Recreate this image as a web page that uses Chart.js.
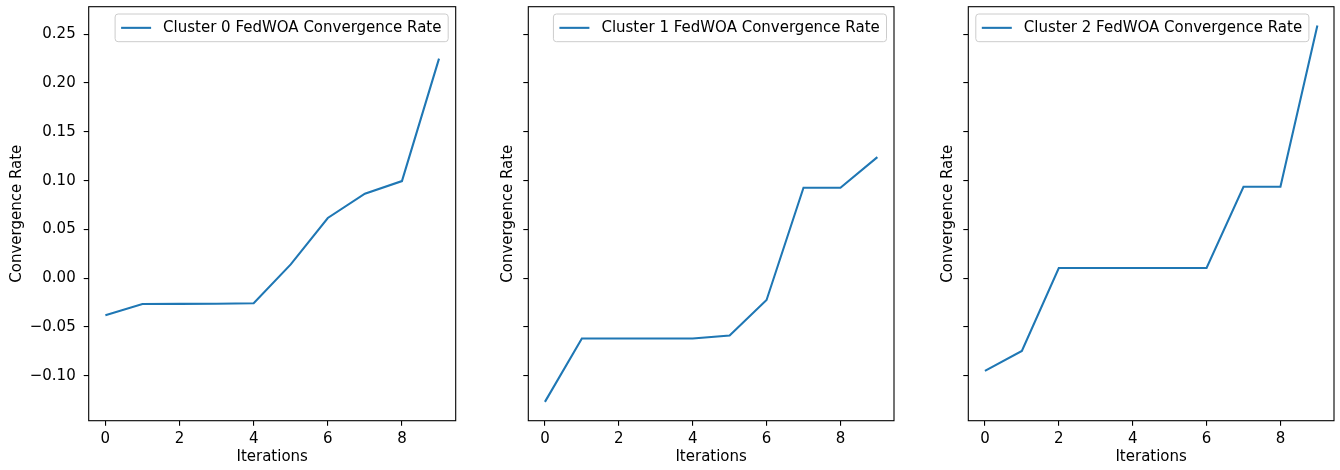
<!DOCTYPE html>
<html>
<head>
<meta charset="utf-8">
<script src="https://cdn.jsdelivr.net/npm/chart.js@4/dist/chart.umd.min.js"></script>
<style>
  html, body { margin: 0; padding: 0; background: #fff; }
  #wrap { position: relative; width: 1340px; height: 470px; }
  #wrap canvas { position: absolute; top: 0; }
</style>
</head>
<body>
<div id="wrap">
  <canvas id="c0" width="460" height="470" style="left:0px"></canvas>
  <canvas id="c1" width="440" height="470" style="left:460px"></canvas>
  <canvas id="c2" width="440" height="470" style="left:900px"></canvas>
</div>
<script>
// ===== DATA =====
const iterations = [0, 1, 2, 3, 4, 5, 6, 7, 8, 9];
const cluster0 = [-0.0380, -0.0264, -0.0263, -0.0261, -0.0257, 0.0142, 0.0617, 0.0866, 0.0995, 0.2250];
const cluster1 = [-0.1267, -0.0618, -0.0618, -0.0618, -0.0618, -0.0588, -0.0223, 0.0927, 0.0927, 0.1241];
const cluster2 = [-0.0950, -0.0745, 0.0105, 0.0105, 0.0105, 0.0105, 0.0105, 0.0937, 0.0937, 0.2589];
const seriesLabels = [
    'Cluster 0 FedWOA Convergence Rate',
    'Cluster 1 FedWOA Convergence Rate',
    'Cluster 2 FedWOA Convergence Rate'
];
const xTicks = [0, 2, 4, 6, 8];
const yTicks = [-0.10, -0.05, 0.00, 0.05, 0.10, 0.15, 0.20, 0.25];

// ===== STYLE =====
const FS = 15;
const FONT = { family: 'DejaVu Sans', size: FS, lineHeight: 1.2 };
const LINE_COLOR = '#1f77b4';
const TEXT_COLOR = '#000';

// shared y range, matplotlib style 5% margins
const allValues = [...cluster0, ...cluster1, ...cluster2];
const dataMin = Math.min(...allValues);
const dataMax = Math.max(...allValues);
const yMargin = (dataMax - dataMin) * 0.05;
const xMargin = (iterations[iterations.length - 1] - iterations[0]) * 0.05;

// frame + matplotlib-like legend drawn inside the axes
const axesPlugin = {
    id: 'axesFrame',
    afterDraw(chart, args, opts) {
        const { ctx, chartArea: a } = chart;
        ctx.save();
        ctx.strokeStyle = '#000';
        ctx.lineWidth = 1.1;
        ctx.strokeRect(a.left, a.top, a.right - a.left, a.bottom - a.top);

        const label = chart.data.datasets[0].label;
        ctx.font = FS + 'px "DejaVu Sans"';
        const textW = ctx.measureText(label).width;
        const boxW = 0.4 * FS + 2 * FS + 0.8 * FS + textW + 0.45 * FS;
        const boxH = 27.7;
        const bx = opts.corner === 'left' ? a.left + 0.5 * FS : a.right - 0.5 * FS - boxW;
        const by = a.top + 7.3;

        ctx.beginPath();
        if (ctx.roundRect) ctx.roundRect(bx, by, boxW, boxH, 3);
        else ctx.rect(bx, by, boxW, boxH);
        ctx.fillStyle = 'rgba(255,255,255,0.8)';
        ctx.fill();
        ctx.strokeStyle = '#cccccc';
        ctx.lineWidth = 1;
        ctx.stroke();

        const cy = by + boxH / 2;
        ctx.beginPath();
        ctx.moveTo(bx + 0.4 * FS, cy);
        ctx.lineTo(bx + 2.4 * FS, cy);
        ctx.strokeStyle = LINE_COLOR;
        ctx.lineWidth = 2.08;
        ctx.stroke();

        ctx.fillStyle = TEXT_COLOR;
        ctx.textBaseline = 'middle';
        ctx.textAlign = 'left';
        ctx.fillText(label, bx + 3.2 * FS, cy + 0.5);
        ctx.restore();
    }
};

function fmtY(v) {
    return v.toFixed(2).replace('-', '\u2212');
}

function makePanel(canvasId, values, label, showYLabels, yAxisWidth, yTitlePad, rightPad, corner) {
    const ctx = document.getElementById(canvasId);
    const gridOpts = {
        drawOnChartArea: false,
        drawTicks: true,
        tickLength: 5,
        tickColor: '#000',
        lineWidth: 1.1
    };
    return new Chart(ctx, {
        type: 'line',
        data: {
            datasets: [{
                label: label,
                data: iterations.map((it, i) => ({ x: it, y: values[i] })),
                borderColor: LINE_COLOR,
                borderWidth: 2.08,
                pointRadius: 0,
                tension: 0,
                fill: false
            }]
        },
        options: {
            responsive: false,
            animation: false,
            events: [],
            layout: { padding: { left: 0, right: rightPad, top: 6.7, bottom: 0 } },
            plugins: {
                legend: { display: false },
                tooltip: { enabled: false },
                axesFrame: { corner: corner }
            },
            scales: {
                x: {
                    type: 'linear',
                    min: iterations[0] - xMargin,
                    max: iterations[iterations.length - 1] + xMargin,
                    afterBuildTicks: s => { s.ticks = xTicks.map(v => ({ value: v })); },
                    afterFit: s => {
                        s.height = 49.3;
                        s.paddingLeft = 0; s.paddingRight = 0;
                    },
                    ticks: { font: FONT, color: TEXT_COLOR, padding: 4, maxRotation: 0, callback: v => String(v) },
                    grid: gridOpts,
                    border: { display: false },
                    title: { display: true, text: 'Iterations', font: FONT, color: TEXT_COLOR, padding: { top: 0, bottom: 4 } }
                },
                y: {
                    type: 'linear',
                    min: dataMin - yMargin,
                    max: dataMax + yMargin,
                    afterBuildTicks: s => { s.ticks = yTicks.map(v => ({ value: v })); },
                    afterFit: s => {
                        s.width = yAxisWidth;
                        s.paddingTop = 0; s.paddingBottom = 0;
                    },
                    ticks: { font: FONT, color: TEXT_COLOR, padding: 8, callback: v => showYLabels ? fmtY(v) : '' },
                    grid: gridOpts,
                    border: { display: false },
                    title: { display: true, text: 'Convergence Rate', font: FONT, color: TEXT_COLOR, padding: { top: yTitlePad, bottom: 0 } }
                }
            }
        },
        plugins: [axesPlugin]
    });
}

makePanel('c0', cluster0, seriesLabels[0], true, 88.7, 7.7, 4.3, 'right');
makePanel('c1', cluster1, seriesLabels[1], false, 68.3, 39.3, 6, 'right');
makePanel('c2', cluster2, seriesLabels[2], false, 68.3, 39.3, 6, 'left');
</script>
</body>
</html>
